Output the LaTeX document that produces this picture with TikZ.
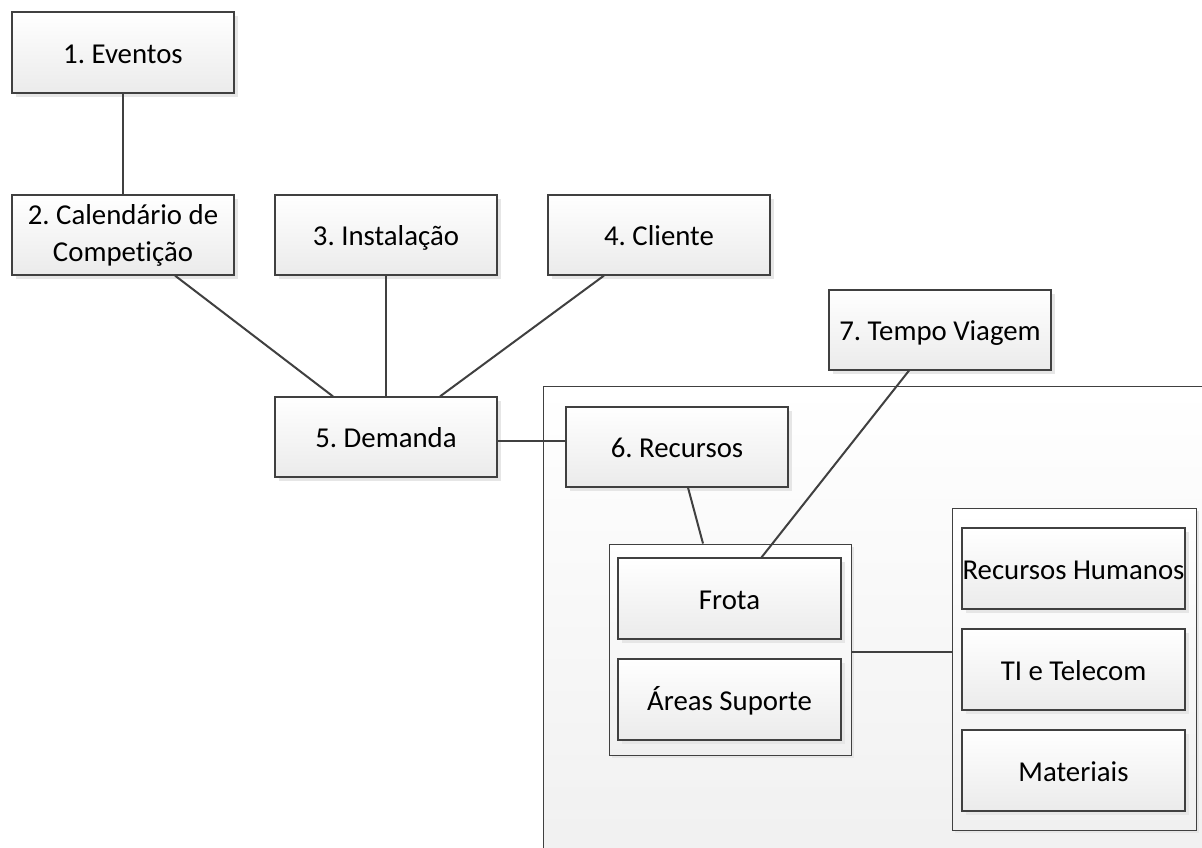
\documentclass[tikz,border=0pt]{standalone}
\usepackage{fontspec}
\setmainfont{Carlito}[Ligatures=NoCommon]
\usetikzlibrary{shadows,calc}
\frenchspacing
\definecolor{edge}{HTML}{404040}
\definecolor{shade}{HTML}{E6E6E6}
\definecolor{fillbot}{HTML}{EBEBEB}
\definecolor{contbot}{HTML}{F0F0F0}
\tikzset{
  box/.style={draw=edge, line width=1.2pt, top color=white, bottom color=fillbot,
    minimum width=222pt, minimum height=81pt, inner sep=0pt, align=center,
    font=\fontsize{28.8}{37}\selectfont\frenchspacing, text=black,
    text height=27pt, text depth=5.4pt,
    drop shadow={shadow xshift=4pt, shadow yshift=-4pt, fill=shade, opacity=1}},
  grp/.style={draw=edge, line width=1pt, top color=white, bottom color=contbot,
    inner sep=0pt,
    drop shadow={shadow xshift=3pt, shadow yshift=-3pt, fill=shade, opacity=1}},
  link/.style={draw=edge, line width=2pt}
}
\begin{document}
\begin{tikzpicture}[x=1pt,y=-1pt]
\useasboundingbox (0,0) rectangle (1202,848);
% big container
\node[draw=edge, line width=1pt, top color=white, bottom color=contbot, inner sep=0pt,
  minimum width=670pt, minimum height=480pt, anchor=north west] (cont) at (543,386) {};
% boxes
\node[box] (n1) at (123,52.5) {1. Eventos};
\node[box, minimum height=80pt, text height=, text depth=] (n2) at (123,235) {2. Calendário de\\Competição};
\node[box, minimum height=80pt] (n3) at (386,235) {3. Instalação};
\node[box, minimum height=80pt] (n4) at (659,235) {4. Cliente};
\node[box, minimum height=80pt] (n7) at (940,330) {7. Tempo Viagem};
\node[box, minimum height=80pt] (n5) at (386,437) {5. Demanda};
\node[box, minimum height=80pt] (n6) at (677,447) {6. Recursos};
% groups
\node[grp, minimum width=242pt, minimum height=211pt] (gF) at (730,649.5) {};
\node[box, minimum width=223pt] (frota) at (729.5,598.5) {Frota};
\node[box, minimum width=223pt] (areas) at (729.5,699.5) {Áreas Suporte};
\node[grp, minimum width=244pt, minimum height=322pt] (gR) at (1074,669) {};
\node[box, minimum width=223pt] (rh) at (1073.5,568.5) {Recursos Humanos};
\node[box, minimum width=223pt] (ti) at (1073.5,669.5) {TI e Telecom};
\node[box, minimum width=223pt] (mat) at (1073.5,770.5) {Materiais};
% connectors
\draw[link] (n1.south) -- (n2.north);
\draw[link] ([xshift=52pt]n2.south) -- ([xshift=-53pt]n5.north);
\draw[link] (n3.south) -- (n5.north);
\draw[link] ([xshift=-55pt]n4.south) -- ([xshift=54pt]n5.north);
\draw[link] ([yshift=-4pt]n5.east) -- ([yshift=-4pt]n5.east -| n6.west);
\draw[link] ([xshift=11pt]n6.south) -- ([xshift=-27pt]gF.north);
\draw[link] ([xshift=-31pt]n7.south) -- ([xshift=32pt]frota.north);
\draw[link] ([yshift=-2pt]gF.east) -- ([yshift=-2pt]gF.east -| gR.west);
\end{tikzpicture}
\end{document}
